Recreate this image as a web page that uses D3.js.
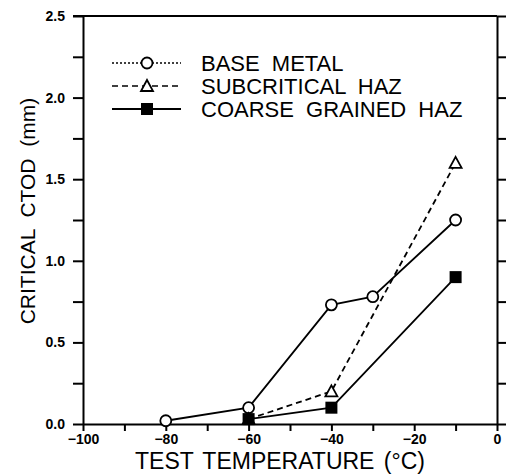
<!DOCTYPE html>
<html>
<head>
<meta charset="utf-8">
<script src="https://cdn.jsdelivr.net/npm/d3@7"></script>
<style>
  body { margin: 0; background: #fff; }
  svg { display: block; font-family: 'Liberation Sans', Arial, sans-serif; }
  .ejes path, .ejes line { stroke: #000; stroke-width: 2; }
  .ejes text { font-weight: bold; font-size: 14px; fill: #000; }
</style>
</head>
<body>
<div id="graf"></div>
<script>
// datos
const tempBase = [-80, -60, -40, -30, -10]
const ctodBase = [0.02, 0.10, 0.73, 0.78, 1.25]

const tempSub = [-60, -40, -10]
const ctodSub = [0.03, 0.20, 1.60]

const tempCg = [-60, -40, -10]
const ctodCg = [0.03, 0.10, 0.90]

const xTicks = d3.range(-100, 1, 10)
const yTicks = d3.range(0, 2.51, 0.25)

const series = [
  { nombre: 'BASE METAL', temps: tempBase, vals: ctodBase, simbolo: 'circulo', dash: null, legDash: '2,2' },
  { nombre: 'SUBCRITICAL HAZ', temps: tempSub, vals: ctodSub, simbolo: 'triangulo', dash: '6,4', legDash: '6,4' },
  { nombre: 'COARSE GRAINED HAZ', temps: tempCg, vals: ctodCg, simbolo: 'cuadrado', dash: null, legDash: null },
]

const anchoTotal = 506
const altoTotal = 476
const margin = { top: 16, bottom: 52, left: 83, right: 9 }
const ancho = anchoTotal - margin.left - margin.right
const alto = altoTotal - margin.top - margin.bottom

const svg = d3.select('#graf')
  .append('svg')
  .attr('width', anchoTotal)
  .attr('height', altoTotal)

const g = svg.append('g')
  .attr('transform', `translate(${margin.left}, ${margin.top})`)

const x = d3.scaleLinear().domain([-100, 0]).range([0, ancho])
const y = d3.scaleLinear().domain([0, 2.5]).range([alto, 0])

// ejes
const xAxisGroup = g.append('g')
  .attr('class', 'ejes')
  .attr('transform', `translate(0, ${alto})`)
  .call(d3.axisBottom(x)
    .tickValues(xTicks)
    .tickSize(7)
    .tickPadding(3)
    .tickSizeOuter(0)
    .tickFormat(d => Math.round(d) % 20 === 0 ? d3.format('d')(d) : ''))

const yAxisGroup = g.append('g')
  .attr('class', 'ejes')
  .call(d3.axisLeft(y)
    .tickValues(yTicks)
    .tickSize(10)
    .tickPadding(8)
    .tickSizeOuter(0)
    .tickFormat(d => Math.abs(d * 2 - Math.round(d * 2)) < 1e-6 ? d3.format('.1f')(d) : ''))

g.append('g')
  .attr('class', 'ejes')
  .attr('transform', `translate(${ancho}, 0)`)
  .call(d3.axisRight(y)
    .tickValues(yTicks)
    .tickSize(9)
    .tickSizeOuter(0)
    .tickFormat(''))

g.append('line')
  .attr('x1', -10).attr('x2', ancho)
  .attr('y1', y(2.5)).attr('y2', y(2.5))
  .attr('stroke', '#000')
  .attr('stroke-width', 2)

// titulos
svg.append('text')
  .attr('x', 280)
  .attr('y', 469)
  .attr('text-anchor', 'middle')
  .attr('font-size', 23)
  .attr('word-spacing', 3)
  .text('TEST TEMPERATURE (°C)')

svg.append('text')
  .attr('transform', `translate(35, 211) rotate(-90)`)
  .attr('text-anchor', 'middle')
  .attr('font-size', 21)
  .attr('word-spacing', 6)
  .text('CRITICAL CTOD (mm)')

// lineas
const linea = d3.line()
  .x(d => x(d[0]))
  .y(d => y(d[1]))

function simbolo(sel, tipo, cx, cy) {
  if (tipo === 'circulo') {
    sel.append('circle')
      .attr('cx', cx).attr('cy', cy).attr('r', 5.5)
      .attr('fill', '#fff').attr('stroke', '#000').attr('stroke-width', 1.8)
  } else if (tipo === 'triangulo') {
    sel.append('path')
      .attr('d', `M${cx},${cy - 6} L${cx + 6},${cy + 5} L${cx - 6},${cy + 5} Z`)
      .attr('fill', '#fff').attr('stroke', '#000').attr('stroke-width', 1.8)
  } else {
    sel.append('rect')
      .attr('x', cx - 6).attr('y', cy - 6).attr('width', 12).attr('height', 12)
      .attr('fill', '#000')
  }
}

series.forEach(s => {
  const pts = s.temps.map((t, i) => [t, s.vals[i]])
  g.append('path')
    .datum(pts)
    .attr('d', linea)
    .attr('fill', 'none')
    .attr('stroke', '#000')
    .attr('stroke-width', 1.8)
    .attr('stroke-dasharray', s.dash)
})

series.forEach(s => {
  s.temps.forEach((t, i) => simbolo(g, s.simbolo, x(t), y(s.vals[i])))
})

// leyenda
const leyenda = svg.append('g')
series.forEach((s, i) => {
  const ly = 63 + i * 23
  leyenda.append('line')
    .attr('x1', 112).attr('x2', 181)
    .attr('y1', ly).attr('y2', ly)
    .attr('stroke', '#000')
    .attr('stroke-width', s.legDash ? 1.3 : 1.8)
    .attr('stroke-dasharray', s.legDash)
  simbolo(leyenda, s.simbolo, 147, ly)
  leyenda.append('text')
    .attr('x', 201)
    .attr('y', ly + 8)
    .attr('font-size', 22)
    .attr('word-spacing', 6)
    .text(s.nombre)
})
</script>
</body>
</html>
